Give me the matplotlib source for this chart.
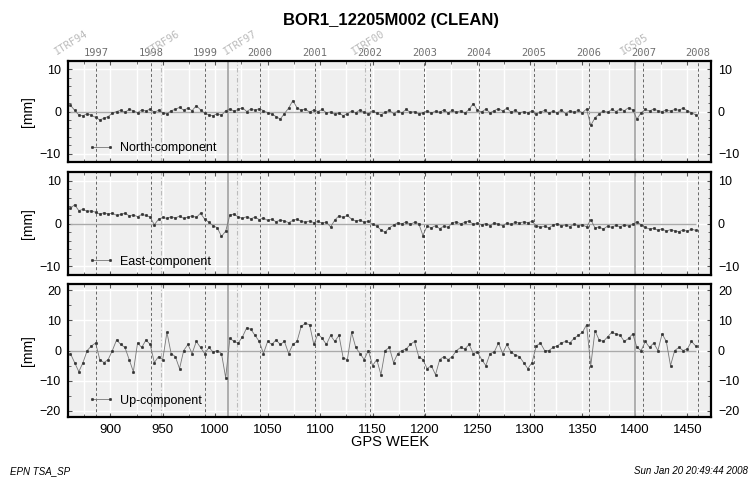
import matplotlib
matplotlib.use('Agg')
import matplotlib.pyplot as plt
import numpy as np
from matplotlib.ticker import MultipleLocator
from matplotlib.transforms import blended_transform_factory

plt.rcParams['font.family'] = ['Liberation Sans', 'DejaVu Sans']

# ---------------- data ----------------
weeks = np.arange(862, 1459, 4)

north = [1.5, 0.3, -0.8, -1.0, -0.5, -0.9, -1.4, -2.0, -1.6, -1.2,
         -0.4, 0.0, 0.3, -0.2, 0.5, 0.2, -0.3, 0.4, 0.1, 0.6,
         -0.2, 0.3, -0.3, -0.6, 0.2, 0.5, 1.0, 0.3, 0.8, 0.2,
         1.4, 0.4, -0.4, -0.8, -1.0, -0.5, -0.9, 0.2, 0.6, 0.1,
         0.5, 0.9, 0.0, 0.6, 0.3, 0.7, 0.2, -0.3, -0.6, -1.2,
         -1.8, -0.5, 0.8, 2.6, 0.9, 0.3, 0.6, -0.2, 0.4, 0.0,
         0.5, -0.3, -0.1, -0.7, -0.4, -1.0, -0.5, 0.1, -0.3, 0.4,
         -0.2, -0.6, 0.2, -0.4, -0.8, -0.2, 0.3, -0.5, 0.1, -0.3,
         0.5, -0.2, 0.0, -0.6, -0.3, 0.2, -0.4, 0.1, -0.2, 0.4,
         -0.3, 0.3, -0.2, 0.2, -0.4, 0.5, 1.9, 0.3, -0.1, 0.6,
         -0.3, 0.2, 0.7, 0.1, 0.8, -0.2, 0.3, -0.4, 0.0, -0.3,
         0.2, -0.5, -0.2, 0.3, -0.4, 0.1, -0.3, 0.4, -0.5, 0.2,
         -0.2, 0.3, -0.3, 0.6, -3.3, -1.5, -0.6, 0.2, -0.2, 0.5,
         0.0, 0.6, 0.2, 0.9, 0.4, -1.8, -0.3, 0.5, 0.1, 0.6,
         0.2, 0.0, 0.4, 0.1, 0.5, 0.3, 0.8, 0.2, -0.3, -0.8]

east = [3.5, 4.4, 3.0, 3.3, 2.8, 3.0, 2.6, 2.2, 2.5, 2.2,
        2.4, 1.9, 2.1, 2.4, 1.8, 2.0, 1.6, 2.1, 1.9, 1.5,
        -0.3, 1.0, 1.4, 1.2, 1.6, 1.3, 1.7, 1.2, 1.5, 1.8,
        1.4, 2.4, 1.0, 0.3, -0.5, -1.0, -3.0, -1.8, 2.0, 2.2,
        1.5, 1.2, 1.6, 1.1, 1.5, 0.9, 1.3, 0.7, 1.0, 0.4,
        0.8, 0.6, 0.2, 0.7, 1.0, 0.5, 0.3, 0.6, 0.2, 0.5,
        0.1, 0.3, -0.8, 0.8, 1.8, 1.4, 1.9, 1.0, 0.6, 0.8,
        0.3, 0.5, -0.2, -0.6, -1.5, -2.0, -1.0, -0.4, 0.2, -0.1,
        0.4, -0.2, 0.3, 0.0, -2.8, -0.6, -1.0, -0.5, -1.2, -0.6,
        -0.9, 0.2, 0.4, -0.1, 0.3, 0.6, -0.2, 0.1, -0.3, 0.0,
        -0.5, 0.2, -0.2, -0.5, 0.1, -0.2, 0.3, 0.1, 0.4, 0.2,
        0.5, -0.5, -0.9, -0.6, -1.0, -0.4, 0.0, -0.6, -0.3, -0.7,
        -0.2, -0.5, -0.3, -0.8, 0.9, -1.0, -0.8, -1.3, -0.6, -0.9,
        -0.4, -0.8, -0.3, -0.6, -0.2, 0.4, -0.3, -0.9, -1.3, -1.1,
        -1.6, -1.2, -1.8, -1.4, -1.7, -1.9, -1.5, -1.8, -1.3, -1.6]

up = [-1.0, -4.0, -7.0, -4.0, 0.0, 1.5, 2.5, -3.0, -4.0, -3.0,
      0.0, 3.5, 2.0, 1.0, -3.0, -7.0, 2.5, 1.0, 3.5, 2.0,
      -4.0, -2.0, -3.0, 6.0, -1.0, -2.0, -6.0, 0.0, 2.0, -1.0,
      3.0, 1.0, -1.0, 1.0, -0.5, 0.0, -1.0, -9.0, 4.0, 3.0,
      2.5, 4.5, 7.5, 7.0, 5.0, 3.0, -1.0, 3.0, 2.0, 3.5,
      2.0, 3.0, -1.0, 2.0, 3.0, 8.0, 9.0, 8.5, 2.0, 5.5,
      4.0, 2.0, 5.0, 3.0, 5.0, -2.5, -3.0, 6.0, 1.0, -1.0,
      -3.0, 0.0, -5.0, -3.0, -8.0, 0.0, 1.0, -4.0, -1.0, 0.0,
      0.5, 2.0, 3.0, -2.0, -3.0, -6.0, -5.0, -8.0, -3.0, -2.0,
      -3.0, -2.0, 0.0, 1.0, 0.5, 2.0, -1.0, -0.5, -3.0, -5.0,
      -1.0, -0.5, 2.5, -1.0, 2.0, -0.5, -1.5, -2.0, -4.0, -6.0,
      -4.0, 1.5, 2.5, 0.0, 0.0, 1.0, 1.5, 2.5, 3.0, 2.5,
      4.0, 5.0, 6.0, 8.5, -5.0, 6.5, 3.5, 3.0, 4.5, 6.0,
      5.5, 5.0, 3.0, 4.0, 5.5, 1.0, 0.0, 3.0, 1.0, 2.5,
      0.0, 5.5, 3.0, -5.0, 0.0, 1.0, 0.0, 0.5, 3.0, 1.5]

components = ['North-component', 'East-component', 'Up-component']
series = [north, east, up]
ylims = [12, 12, 22]
ymajors = [10, 10, 10]

year_labels = ['1997', '1998', '1999', '2000', '2001', '2002',
               '2003', '2004', '2005', '2006', '2007', '2008']
year_weeks = [886.4, 938.6, 990.7, 1042.9, 1095.1, 1147.3,
              1199.4, 1251.6, 1303.9, 1356.0, 1408.1, 1460.3]
frame_labels = ['ITRF94', 'ITRF96', 'ITRF97', 'ITRF00', 'IGS05']
frame_weeks = [860, 948, 1021, 1143, 1400]
dotted_weeks = [948, 1021, 1143]
solid_weeks = [1012, 1400]

# ---------------- figure ----------------
W, H = 756, 479
fig = plt.figure(figsize=(W / 100, H / 100), dpi=100)

def px_axes(l, t, r, b):
    return fig.add_axes([l / W, 1 - b / H, (r - l) / W, (b - t) / H])

boxes = [(68, 61, 711, 162), (68, 172, 711, 275), (68, 284, 711, 417)]
axes = [px_axes(*bx) for bx in boxes]

for i, ax in enumerate(axes):
    ax.set_facecolor('#efefef')
    ax.set_xlim(859.7, 1472.6)
    ax.set_ylim(-ylims[i], ylims[i])
    ax.xaxis.set_major_locator(MultipleLocator(50))
    ax.xaxis.set_minor_locator(MultipleLocator(25))
    ax.yaxis.set_major_locator(MultipleLocator(ymajors[i]))
    ax.yaxis.set_minor_locator(MultipleLocator(2 if i < 2 else 5))
    ax.set_axisbelow(True)
    ax.grid(which='both', axis='x', color='white', lw=1.0)
    ax.grid(which='major', axis='y', color='white', lw=1.0)
    for s in ax.spines.values():
        s.set_linewidth(1.6)
        s.set_color('black')
    ax.tick_params(which='both', direction='in', top=True, right=True,
                   labelright=True, labelsize=9, color='#555')
    ax.tick_params(which='major', length=3)
    ax.tick_params(which='minor', length=2)
    ax.tick_params(axis='y', pad=5)
    if i < 2:
        ax.tick_params(axis='x', labelbottom=False)
    else:
        ax.tick_params(axis='x', labelsize=9.5, pad=5)
    ax.set_ylabel('[mm]', fontsize=10, labelpad=6)

    # event lines
    for w in year_weeks:
        ax.axvline(w, color='#666666', ls=(0, (3, 2.5)), lw=0.7, zorder=1.2)
    for w in dotted_weeks:
        ax.axvline(w, color='#bbbbbb', ls=(0, (4, 2, 1, 2)), lw=0.8, zorder=1.1)
    for w in solid_weeks:
        ax.axvline(w, color='#a8a8a8', ls='-', lw=1.3, zorder=1.1)

    ax.hlines(0, weeks[0], weeks[-1], color='#aaaaaa', lw=1.0, zorder=1.5)
    ax.plot(weeks, series[i], '-', color='#777777', lw=0.6,
            marker='o', ms=1.9, mfc='#333333', mec='#333333', mew=0.3,
            label=components[i], zorder=3)
    ax.legend(loc='lower left', bbox_to_anchor=(0.02, 0.0 if i < 2 else 0.02),
              frameon=False, fontsize=9, handlelength=2.0, numpoints=2,
              borderaxespad=0.2, handletextpad=0.5)

for ax in axes:
    ax.yaxis.set_label_coords(-0.052, 0.5)

# top annotations
tr = blended_transform_factory(axes[0].transData, fig.transFigure)
for lab, w in zip(year_labels, year_weeks):
    fig.text(w, 1 - 53 / H, lab, transform=tr, ha='center', va='center',
             fontsize=7.5, color='#707070', family='DejaVu Sans Mono')
for lab, w in zip(frame_labels, frame_weeks):
    fig.text(w - 10, 1 - 57 / H, lab, transform=tr, ha='left', va='bottom',
             rotation=32, rotation_mode='anchor', fontsize=7.5,
             color='#bbbbbb', family='DejaVu Sans Mono')

fig.text(391 / W, 1 - 20 / H, 'BOR1_12205M002 (CLEAN)', ha='center',
         va='center', fontsize=12, weight='bold')
fig.text(390 / W, 1 - 442 / H, 'GPS WEEK', ha='center', va='center',
         fontsize=10.5)
fig.text(10 / W, 1 - 471 / H, 'EPN TSA_SP', ha='left', va='center',
         fontsize=7, style='italic')
fig.text(748 / W, 1 - 471 / H, 'Sun Jan 20 20:49:44 2008', ha='right',
         va='center', fontsize=7, style='italic')

fig.savefig('out.png', dpi=100)
